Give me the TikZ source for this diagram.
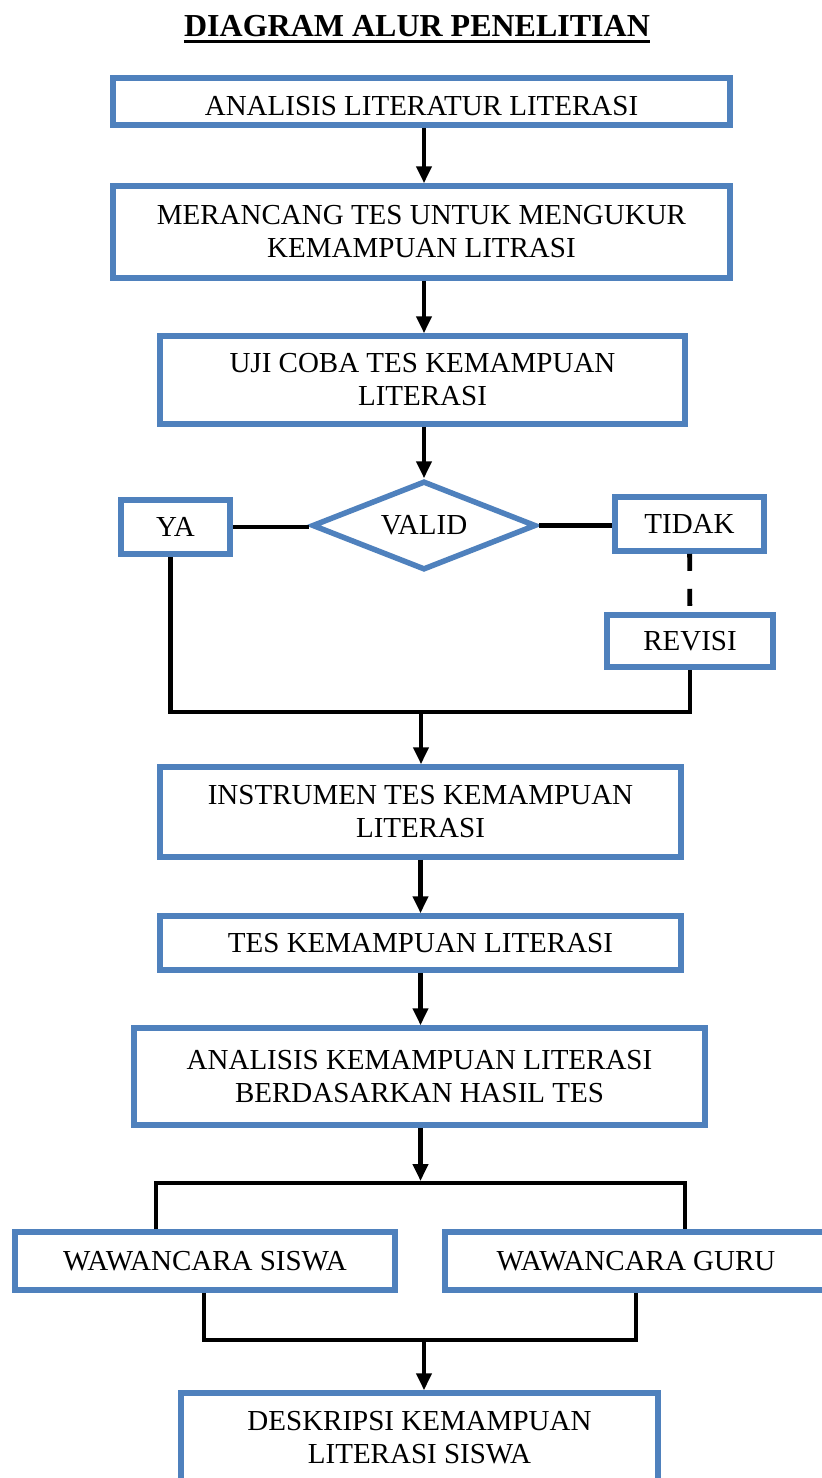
\documentclass[tikz,border=0pt]{standalone}
\usepackage{fontspec}
\setmainfont{Liberation Serif}
\usetikzlibrary{shapes.geometric,arrows.meta,calc}
\definecolor{boxblue}{RGB}{79,129,189}
\begin{document}
\begin{tikzpicture}[x=1pt,y=-1pt,
  box/.style={draw=boxblue, line width=5.5pt, fill=white, inner sep=0pt, align=center,
              font=\fontsize{29}{33}\selectfont},
  dec/.style={box, diamond, aspect=2.4},
  conn/.style={line width=4.8pt, line join=miter},
  arr/.style={conn, -{Triangle[width=15pt,length=17pt]}}]
\useasboundingbox (0,0) rectangle (822,1478);
\clip (0,0) rectangle (822,1478);
\fill[white] (0,0) rectangle (822,1478);

\node[font=\bfseries\fontsize{32}{36}\selectfont, inner sep=0pt, anchor=base] (title) at (417,36) {DIAGRAM ALUR PENELITIAN};
\draw[line width=3pt] ([yshift=-5.5pt]title.base west) -- ([yshift=-5.5pt]title.base east);

\node[box, minimum width=617, minimum height=47, text height=28pt, text depth=0pt] (b1) at (421.5,101.5) {ANALISIS LITERATUR LITERASI};
\node[box, minimum width=617, minimum height=92] (b2) at (421.5,232) {MERANCANG TES UNTUK MENGUKUR\\KEMAMPUAN LITRASI};
\node[box, minimum width=525, minimum height=88] (b3) at (422.5,380) {UJI COBA TES KEMAMPUAN\\LITERASI};
\node[dec, minimum width=224, minimum height=89] (valid) at (424,525.5) {VALID};
\node[box, minimum width=109, minimum height=54] (ya) at (175.5,527) {YA};
\node[box, minimum width=149, minimum height=54] (tidak) at (689.5,524) {TIDAK};
\node[box, minimum width=166, minimum height=52] (revisi) at (690,641) {REVISI};
\node[box, minimum width=521, minimum height=90] (instr) at (420.5,812) {INSTRUMEN TES KEMAMPUAN\\LITERASI};
\node[box, minimum width=521, minimum height=54] (tes) at (420.5,943) {TES KEMAMPUAN LITERASI};
\node[box, minimum width=571, minimum height=97] (anal) at (419.5,1076.5) {ANALISIS KEMAMPUAN LITERASI\\BERDASARKAN HASIL TES};
\node[box, minimum width=380, minimum height=58] (siswa) at (205,1261) {WAWANCARA SISWA};
\node[box, minimum width=382, minimum height=58] (guru) at (636,1261) {WAWANCARA GURU};
\node[box, minimum width=477, minimum height=89] (desk) at (419.5,1437.5) {DESKRIPSI KEMAMPUAN\\LITERASI SISWA};

\coordinate (a1) at (424,0);
\draw[arr] (a1 |- b1.south) -- (a1 |- b2.north);
\draw[arr] (a1 |- b2.south) -- (a1 |- b3.north);
\draw[arr] (a1 |- b3.south) -- (valid.north);
\draw[conn] (ya.east) -- (ya.east -| valid.west);
\draw[conn] (valid.east) -- (valid.east -| tidak.west);
\draw[conn, dash pattern=on 17pt off 18pt] (tidak) -- (revisi);
\coordinate (m1) at (421,712);
\draw[conn] ([xshift=-5pt]ya.south) |- (m1) -| (revisi.south);
\draw[arr] (m1) -- (m1 |- instr.north);
\coordinate (a2) at (420.5,0);
\draw[arr] (a2 |- instr.south) -- (a2 |- tes.north);
\draw[arr] (a2 |- tes.south) -- (a2 |- anal.north);
\coordinate (m2) at (420.5,1181);
\draw[arr] (m2 |- anal.south) -- (m2);
\coordinate (s1) at (156,1183);
\coordinate (s2) at (685,1183);
\draw[conn] (s1 |- siswa.north) -- (s1) -- (s2) -- (s2 |- guru.north);
\coordinate (m3) at (424,1340);
\draw[conn] ([xshift=-1pt]siswa.south) |- (m3) -| (guru.south);
\draw[arr] (m3) -- (m3 |- desk.north);
\end{tikzpicture}
\end{document}
